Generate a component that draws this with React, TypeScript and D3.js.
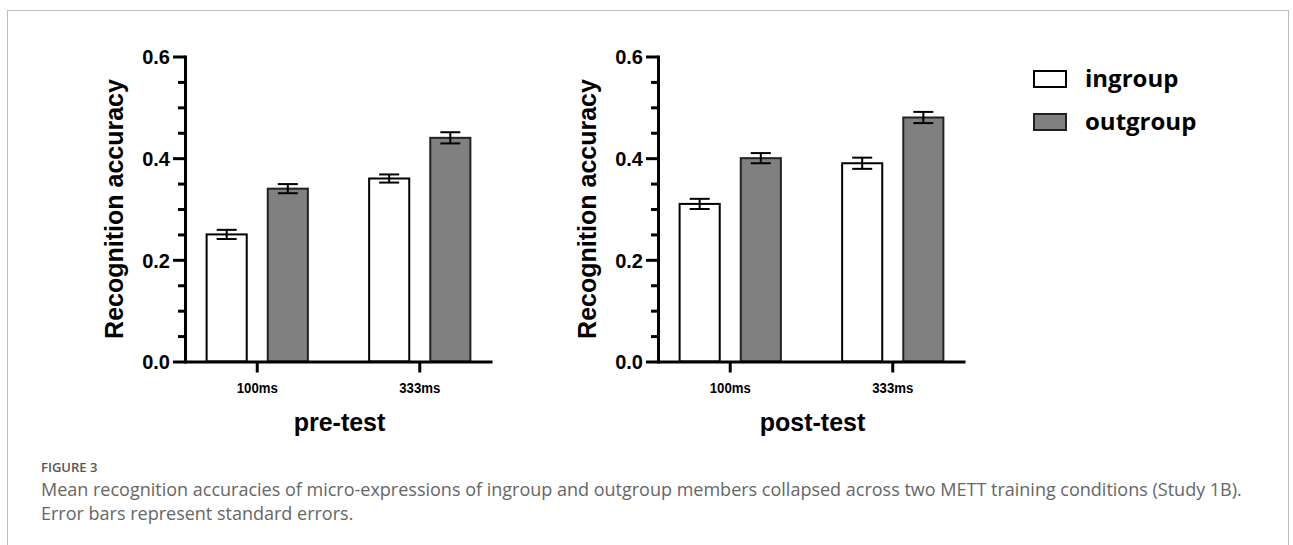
import React, { useEffect, useRef } from 'react';
import * as d3 from 'd3';

// Data
const conditions = ['100ms', '333ms'];
const groups = ['ingroup', 'outgroup'];

const preIngroup = [0.25, 0.36];
const preOutgroup = [0.34, 0.44];
const preIngroupSE = [0.009, 0.008];
const preOutgroupSE = [0.009, 0.011];

const postIngroup = [0.31, 0.39];
const postOutgroup = [0.40, 0.48];
const postIngroupSE = [0.01, 0.011];
const postOutgroupSE = [0.01, 0.011];

const yMajorTicks = [0, 0.2, 0.4, 0.6];
const yMinorTicks = [0.05, 0.1, 0.15, 0.25, 0.3, 0.35, 0.45, 0.5, 0.55];

const groupFill: Record<string, string> = { ingroup: '#ffffff', outgroup: '#808080' };
const groupStroke: Record<string, string> = { ingroup: '#000000', outgroup: '#222222' };

const captionLabel = 'FIGURE 3';
const captionLines = [
  'Mean recognition accuracies of micro-expressions of ingroup and outgroup members collapsed across two METT training conditions (Study 1B).',
  'Error bars represent standard errors.'
];

const chartFont = 'Arial, "Liberation Sans", sans-serif';

function drawPanel(
  svg: d3.Selection<SVGSVGElement, unknown, null, undefined>,
  left: number,
  title: string,
  ingroup: number[],
  outgroup: number[],
  ingroupSE: number[],
  outgroupSE: number[]
) {
  const width = 307;
  const yScale = d3.scaleLinear().domain([0, 0.6]).range([361.5, 56.5]);
  const x0 = d3.scaleBand<string>()
    .domain(conditions)
    .range([left, left + width])
    .paddingInner(0.377)
    .paddingOuter(0.133);
  const x1 = d3.scaleBand<string>()
    .domain(groups)
    .range([0, x0.bandwidth()])
    .paddingInner(0.344);

  const g = svg.append('g');

  // Bars
  const rows = conditions.map((c, i) => [
    { cond: c, group: 'ingroup', value: ingroup[i], se: ingroupSE[i] },
    { cond: c, group: 'outgroup', value: outgroup[i], se: outgroupSE[i] }
  ]).flat();

  g.selectAll('rect.bar')
    .data(rows)
    .enter()
    .append('rect')
    .attr('class', 'bar')
    .attr('x', d => (x0(d.cond) ?? 0) + (x1(d.group) ?? 0))
    .attr('y', d => yScale(d.value))
    .attr('width', x1.bandwidth())
    .attr('height', d => yScale(0) - yScale(d.value))
    .attr('fill', d => groupFill[d.group])
    .attr('stroke', d => groupStroke[d.group])
    .attr('stroke-width', 2);

  // Error bars
  const cx = (d: any) => (x0(d.cond) ?? 0) + (x1(d.group) ?? 0) + x1.bandwidth() / 2;
  const err = g.selectAll('g.err')
    .data(rows)
    .enter()
    .append('g')
    .attr('class', 'err')
    .attr('stroke', '#000')
    .attr('stroke-width', 2);
  err.append('line')
    .attr('x1', cx).attr('x2', cx)
    .attr('y1', d => yScale(d.value + d.se))
    .attr('y2', d => yScale(d.value - d.se));
  err.append('line')
    .attr('x1', d => cx(d) - 10).attr('x2', d => cx(d) + 10)
    .attr('y1', d => yScale(d.value + d.se))
    .attr('y2', d => yScale(d.value + d.se));
  err.append('line')
    .attr('x1', d => cx(d) - 10).attr('x2', d => cx(d) + 10)
    .attr('y1', d => yScale(d.value - d.se))
    .attr('y2', d => yScale(d.value - d.se));

  // Y axis: minor ticks
  const minor = g.append('g')
    .attr('transform', `translate(${left},0)`)
    .call(d3.axisLeft(yScale).tickValues(yMinorTicks).tickSize(7).tickSizeOuter(0).tickFormat(() => ''));
  minor.select('.domain').remove();
  minor.selectAll('line').attr('stroke', '#000').attr('stroke-width', 3);

  // Y axis: major ticks + domain
  const yAxis = g.append('g')
    .attr('transform', `translate(${left},0)`)
    .call(d3.axisLeft(yScale).tickValues(yMajorTicks).tickSize(12).tickSizeOuter(0).tickPadding(3).tickFormat(d3.format('.1f')));
  yAxis.select('.domain')
    .attr('stroke', '#000')
    .attr('stroke-width', 3)
    .attr('stroke-linecap', 'square');
  yAxis.selectAll('line').attr('stroke', '#000').attr('stroke-width', 3);
  yAxis.selectAll('text')
    .attr('font-family', chartFont)
    .attr('font-size', 20)
    .attr('font-weight', 700)
    .attr('fill', '#000')
    .attr('dy', '0.36em');

  // X axis
  const xAxis = g.append('g')
    .attr('transform', `translate(0,${yScale(0)})`)
    .call(d3.axisBottom(x0).tickSize(11).tickSizeOuter(0).tickPadding(10));
  xAxis.select('.domain')
    .attr('stroke', '#000')
    .attr('stroke-width', 3);
  xAxis.selectAll('line').attr('stroke', '#000').attr('stroke-width', 3);
  xAxis.selectAll('text')
    .attr('font-family', chartFont)
    .attr('font-size', 14.5)
    .attr('font-weight', 700)
    .attr('fill', '#000')
    .attr('textLength', 41)
    .attr('lengthAdjust', 'spacingAndGlyphs');

  // Y label
  g.append('text')
    .attr('transform', `translate(${left - 62},${(yScale(0) + yScale(0.6)) / 2}) rotate(-90)`)
    .attr('text-anchor', 'middle')
    .attr('font-family', chartFont)
    .attr('font-size', 25)
    .attr('font-weight', 700)
    .attr('fill', '#000')
    .text('Recognition accuracy');

  // X title
  g.append('text')
    .attr('x', left + width / 2 + 1)
    .attr('y', 431)
    .attr('text-anchor', 'middle')
    .attr('font-family', chartFont)
    .attr('font-size', 25)
    .attr('font-weight', 700)
    .attr('fill', '#000')
    .text(title);
}

export default function App() {
  const svgRef = useRef<SVGSVGElement>(null);

  useEffect(() => {
    const svg = d3.select(svgRef.current as SVGSVGElement);
    svg.selectAll('*').remove();

    // Figure frame
    svg.append('rect')
      .attr('x', 7.5)
      .attr('y', 10.5)
      .attr('width', 1281)
      .attr('height', 600)
      .attr('fill', 'none')
      .attr('stroke', '#bdbdbd')
      .attr('stroke-width', 1);

    drawPanel(svg, 185, 'pre-test', preIngroup, preOutgroup, preIngroupSE, preOutgroupSE);
    drawPanel(svg, 658, 'post-test', postIngroup, postOutgroup, postIngroupSE, postOutgroupSE);

    // Legend
    const legend = svg.append('g').attr('transform', 'translate(1034,71)');
    groups.forEach((grp, i) => {
      legend.append('rect')
        .attr('x', 0)
        .attr('y', i * 43)
        .attr('width', 32)
        .attr('height', 16)
        .attr('fill', groupFill[grp])
        .attr('stroke', groupStroke[grp])
        .attr('stroke-width', 2);
      legend.append('text')
        .attr('x', 51)
        .attr('y', i * 43 + 16)
        .attr('font-family', '"Open Sans", sans-serif')
        .attr('font-size', 24)
        .attr('font-weight', 700)
        .attr('fill', '#000')
        .text(grp);
    });

    // Caption
    svg.append('text')
      .attr('x', 41)
      .attr('y', 472)
      .attr('font-family', '"Open Sans", sans-serif')
      .attr('font-size', 13)
      .attr('font-weight', 600)
      .attr('fill', '#555')
      .text(captionLabel);

    captionLines.forEach((line, i) => {
      svg.append('text')
        .attr('x', 41)
        .attr('y', 496 + i * 23.5)
        .attr('font-family', '"Open Sans", sans-serif')
        .attr('font-size', 18)
        .attr('fill', '#666')
        .text(line);
    });
  }, []);

  return (
    <svg
      ref={svgRef}
      width={1293}
      height={545}
      style={{ position: 'absolute', left: 0, top: 0, background: '#fff' }}
    />
  );
}
